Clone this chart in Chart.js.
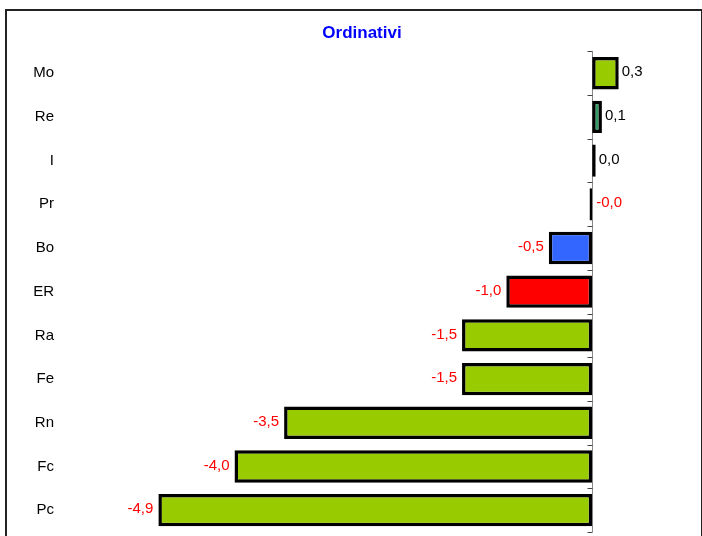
<!DOCTYPE html>
<html lang="it">
<head>
  <meta charset="UTF-8">
  <title>Ordinativi</title>
  <style>
    body {
      margin: 0;
      background-color: #fff;
      overflow: hidden;
      font-family: Arial, "Liberation Sans", sans-serif;
    }
    #wrap {
      position: absolute;
      left: 0;
      top: 0;
      width: 702px;
      height: 536px;
      overflow: hidden;
    }
    #frame {
      position: absolute;
      left: 5px;
      top: 9px;
      width: 694px;
      height: 560px;
      border: 2px solid #222;
      pointer-events: none;
    }
  </style>
</head>
<body>
  <div id="wrap">
    <canvas id="chart" width="702" height="548"></canvas>
  </div>
  <div id="frame"></div>

  <script src="https://cdn.jsdelivr.net/npm/chart.js"></script>
  <script>
    const categories = ['Mo', 'Re', 'I', 'Pr', 'Bo', 'ER', 'Ra', 'Fe', 'Rn', 'Fc', 'Pc'];
    const values = [0.30, 0.11, 0.04, -0.03, -0.49, -0.97, -1.47, -1.47, -3.48, -4.04, -4.90];
    const barColors = ['#99CC00', '#339966', '#99CC00', '#99CC00', '#3366FF', '#FF0000',
                       '#99CC00', '#99CC00', '#99CC00', '#99CC00', '#99CC00'];

    function fmt(v) {
      return v.toFixed(1).replace('.', ',');
    }

    // zero line with small tick marks between categories
    const zeroAxis = {
      id: 'zeroAxis',
      beforeDatasetsDraw(chart) {
        const ctx = chart.ctx;
        const xs = chart.scales.x, ys = chart.scales.y;
        const x0 = Math.round(xs.getPixelForValue(0)) + 0.5;
        ctx.save();
        ctx.strokeStyle = '#888';
        ctx.lineWidth = 1;
        ctx.beginPath();
        ctx.moveTo(x0, chart.chartArea.top);
        ctx.lineTo(x0, chart.chartArea.bottom);
        ctx.stroke();
        ctx.strokeStyle = '#444';
        for (let i = 0; i <= categories.length; i++) {
          const y = Math.round(ys.getPixelForValue(i - 0.5)) + 0.5;
          ctx.beginPath();
          ctx.moveTo(x0 - 5, y);
          ctx.lineTo(x0, y);
          ctx.stroke();
        }
        ctx.restore();
      }
    };

    const valueLabels = {
      id: 'valueLabels',
      afterDatasetsDraw(chart) {
        const ctx = chart.ctx;
        const x0 = chart.scales.x.getPixelForValue(0);
        const meta = chart.getDatasetMeta(0);
        ctx.save();
        ctx.font = '15px Arial, "Liberation Sans", sans-serif';
        ctx.textBaseline = 'middle';
        meta.data.forEach((bar, i) => {
          const v = values[i];
          ctx.fillStyle = v < 0 ? '#FF0000' : '#000';
          if (v >= 0) {
            ctx.textAlign = 'left';
            ctx.fillText(fmt(v), bar.x + 3, bar.y - 1);
          } else if (Math.abs(v) < 0.05) {
            ctx.textAlign = 'left';
            ctx.fillText(fmt(v), x0 + 4, bar.y - 1);
          } else {
            ctx.textAlign = 'right';
            ctx.fillText(fmt(v), bar.x - 5, bar.y - 1);
          }
        });
        ctx.restore();
      }
    };

    new Chart(document.getElementById('chart'), {
      type: 'bar',
      data: {
        labels: categories,
        datasets: [{
          data: values,
          backgroundColor: barColors,
          borderColor: '#000',
          borderWidth: 3.5,
          borderSkipped: false,
          barPercentage: 0.74,
          categoryPercentage: 1
        }]
      },
      options: {
        indexAxis: 'y',
        responsive: false,
        animation: false,
        layout: {
          padding: { left: 0, right: 39, top: 0, bottom: 4 }
        },
        plugins: {
          legend: { display: false },
          tooltip: { enabled: false },
          title: {
            display: true,
            fullSize: false,
            text: 'Ordinativi',
            color: '#0000FF',
            font: { family: 'Arial, "Liberation Sans", sans-serif', size: 17, weight: 'bold' },
            padding: { top: 23, bottom: 8 }
          }
        },
        scales: {
          x: {
            display: false,
            min: -6,
            max: 0.8
          },
          y: {
            grid: { display: false, tickLength: 0 },
            border: { display: false },
            ticks: {
              color: '#000',
              padding: 7,
              font: { family: 'Arial, "Liberation Sans", sans-serif', size: 15 }
            },
            afterFit(scale) {
              scale.width = 61;
            }
          }
        }
      },
      plugins: [zeroAxis, valueLabels]
    });
  </script>
</body>
</html>
